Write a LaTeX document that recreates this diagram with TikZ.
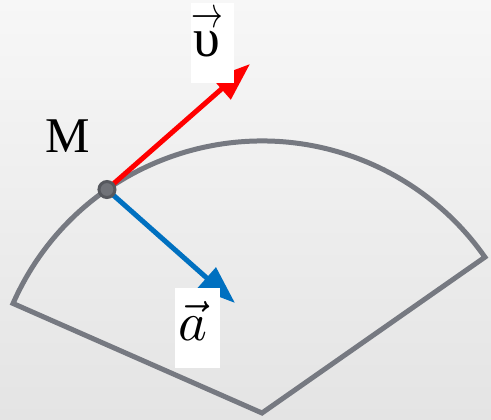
\documentclass[tikz,border=0pt]{standalone}
\usepackage{graphicx}
\usepackage{fontspec}
\setmainfont{Liberation Serif}
\usetikzlibrary{arrows.meta,calc}
\definecolor{edgegray}{RGB}{118,121,129}
\definecolor{vred}{RGB}{255,0,0}
\definecolor{ablue}{RGB}{0,112,192}
\definecolor{ptfill}{RGB}{112,114,120}
\definecolor{ptdraw}{RGB}{86,88,94}
\definecolor{bgtop}{RGB}{247,247,247}
\definecolor{bgbot}{RGB}{228,228,228}
\begin{document}
\begin{tikzpicture}[x=1pt,y=-1pt,
  vecarrow/.style={line width=5pt,-{Triangle[length=38pt,width=27pt]}},
  sector/.style={draw=edgegray,line width=5pt,line join=miter},
  pointdot/.style={circle,fill=ptfill,draw=ptdraw,line width=3pt,minimum size=16pt,inner sep=0pt},
  lbltext/.style={anchor=base,inner sep=0pt}]
  % background
  \shade[top color=bgtop,bottom color=bgbot] (0,0) rectangle (491,420);
  \useasboundingbox (0,0) rectangle (491,420);
  % sector
  \coordinate (O) at (262,413);
  \draw[sector] (O) -- ++(203.75:272) arc[start angle=203.75,end angle=325.04,radius=272] -- cycle;
  % point and vector ends
  \coordinate (M) at ($(O)+(235.25:272)$);
  \coordinate (vtip) at (250,64);
  \coordinate (atip) at (235,303);
  \draw[vecarrow,vred] (M) -- (vtip);
  \draw[vecarrow,ablue] (M) -- (atip);
  \node[pointdot] (Mpt) at (M) {};
  % white label backgrounds
  \fill[white] (191,3) rectangle (234,83);
  \fill[white] (175,288) rectangle (220,368);
  % labels
  \node[lbltext] (Mlabel) at (67.5,153) {\scalebox{5}{\fontsize{10}{12}\selectfont M}};
  \node[lbltext] (vlabel) at (207,57) {\scalebox{5}{\fontsize{10.8}{12}\selectfont\shortstack{\scalebox{0.58}[0.8]{$\rightarrow$}\\[-2.2pt]υ}}};
  \node[lbltext] (alabel) at (193,340) {\scalebox{5}{\fontsize{10.6}{12}\selectfont$\vec a$}};
\end{tikzpicture}
\end{document}
